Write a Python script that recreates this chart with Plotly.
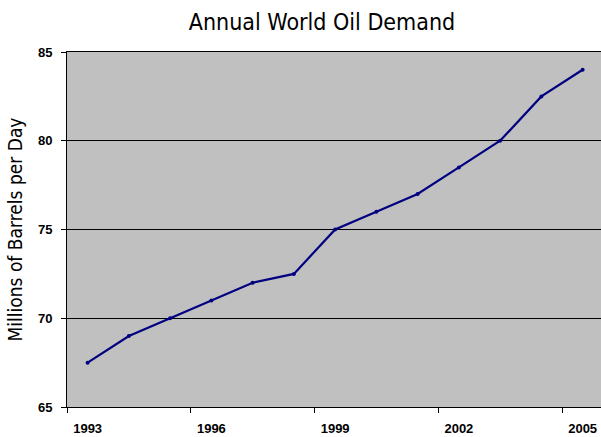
import plotly.graph_objects as go

years = [1993, 1994, 1995, 1996, 1997, 1998, 1999, 2000, 2001, 2002, 2003, 2004, 2005]
demand = [67.5, 69, 70, 71, 72, 72.5, 75, 76, 77, 78.5, 80, 82.5, 84]
label_years = [1993, 1996, 1999, 2002, 2005]
y_ticks = [65, 70, 75, 80, 85]

W, H = 601, 437
left, top, bottom = 67, 52, 407
cat_w = 41.25

NARROW = "Liberation Sans Narrow, Arial Narrow, DejaVu Sans Condensed, Arial"

fig = go.Figure(go.Scatter(
    x=years, y=demand, mode="lines+markers",
    line=dict(color="#000080", width=2.2),
    marker=dict(color="#000080", size=4),
))

x0 = years[0] - 0.5
x1 = x0 + (W - left) / cat_w

fig.update_layout(
    width=W, height=H,
    margin=dict(l=left, r=0, t=top, b=H - bottom, autoexpand=False),
    paper_bgcolor="white", plot_bgcolor="#C0C0C0",
    showlegend=False,
    title=dict(text="Annual World Oil Demand", x=322 / W, xanchor="center",
               y=1 - 22 / H, yanchor="middle",
               font=dict(family=NARROW, size=23, color="black")),
    xaxis=dict(range=[x0, x1], tickvals=label_years, ticktext=[str(v) for v in label_years],
               ticks="", showgrid=False, zeroline=False, automargin=False,
               ticklabelstandoff=9,
               showline=True, linecolor="black", linewidth=1, mirror=True,
               tickfont=dict(family="Liberation Sans, Arial", size=13, color="black", weight="bold"),
               minor=dict(tickvals=[y - 0.5 for y in label_years], ticks="outside", ticklen=5,
                          tickcolor="black", tickwidth=1, showgrid=False)),
    yaxis=dict(range=[65, 85], tickvals=y_ticks, ticks="outside", ticklen=5, automargin=False,
               ticklabelstandoff=6,
               tickcolor="black", showgrid=True, gridcolor="black", gridwidth=1,
               zeroline=False, showline=True, linecolor="black", linewidth=1,
               tickfont=dict(family="Liberation Sans, Arial", size=13, color="black", weight="bold"),
               title=dict(text="Millions of Barrels per Day", standoff=10,
                          font=dict(family=NARROW, size=19, color="black"))),
)

fig.write_html(
    "out.html",
    config={"displayModeBar": False},
    post_script=("document.body.style.margin='0';"
                 "document.body.style.overflow='hidden';"
                 "document.documentElement.style.overflow='hidden';"),
)
